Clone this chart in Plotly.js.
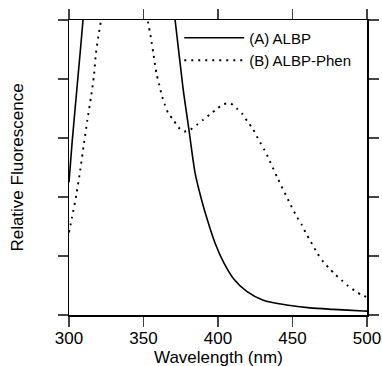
<!DOCTYPE html>
<html>
<head>
<meta charset="utf-8">
<script src="https://cdn.plot.ly/plotly-3.0.1.min.js"></script>
<style>html,body{margin:0;padding:0;background:#fff;}#chart{width:382px;height:366px;}</style>
</head>
<body>
<div id="chart"></div>
<script>
// Curve A: ALBP (solid)
var wavelengthA = [300, 302, 305, 307.5, 309.4, 312, 340, 368, 371.2, 376.5, 380.5, 384.6, 389, 393, 398, 403.6, 410.3, 419.3, 430.4, 446, 461.7, 477.4, 497.5, 500];
var fluorA      = [2.25, 2.9, 3.75, 4.45, 5.0, 5.8, 9.0, 5.6, 5.0, 3.85, 3.14, 2.41, 1.95, 1.6, 1.22, 0.9, 0.62, 0.40, 0.25, 0.17, 0.12, 0.095, 0.068, 0.065];
// Curve B: ALBP-Phen (dotted)
var wavelengthB = [300, 302, 305, 307.5, 310, 312.3, 314.8, 316.8, 318.1, 319.7, 321.5, 324, 338, 352, 353.2, 354.4, 355.5, 356.6, 357.7, 358.9, 360.6, 362.2, 364.4, 366.6, 370, 373.4, 377.2, 381.2, 385.7, 390.1, 394.6, 399.1, 403.6, 408.1, 412.6, 416.6, 419.7, 423.3, 426, 428.2, 430.9, 433.1, 440, 448.3, 452.8, 456.2, 459.1, 461.7, 466.6, 470.7, 474.7, 478.5, 483, 487.4, 491.9, 496.4, 500];
var fluorB      = [1.4, 1.65, 2.05, 2.45, 2.9, 3.3, 3.7, 4.07, 4.44, 4.72, 5.0, 5.5, 8.0, 5.3, 4.94, 4.78, 4.61, 4.44, 4.24, 4.07, 3.90, 3.73, 3.56, 3.42, 3.31, 3.18, 3.11, 3.14, 3.22, 3.31, 3.40, 3.49, 3.57, 3.59, 3.50, 3.40, 3.28, 3.16, 3.03, 2.93, 2.81, 2.70, 2.32, 1.89, 1.67, 1.53, 1.38, 1.27, 1.05, 0.90, 0.79, 0.69, 0.59, 0.49, 0.41, 0.34, 0.30];
var seriesNames = ['(A) ALBP', '(B) ALBP-Phen'];
var xTickVals = [300, 350, 400, 450, 500];
var xTitle = 'Wavelength (nm)';
var yTitle = 'Relative Fluorescence';

var font = 'Liberation Sans, Arial, Helvetica, sans-serif';
var traces = [
  {x: wavelengthA, y: fluorA, name: seriesNames[0], mode: 'lines', type: 'scatter',
   line: {color: '#000', width: 1.6, shape: 'spline', smoothing: 0.7}},
  {x: wavelengthB, y: fluorB, name: seriesNames[1], mode: 'lines', type: 'scatter',
   line: {color: '#000', width: 1.9, dash: '2px,5px', shape: 'spline', smoothing: 0.7}}
];
var layout = {
  width: 382, height: 366,
  margin: {l: 69, r: 15, t: 20, b: 51},
  paper_bgcolor: '#fff', plot_bgcolor: '#fff',
  font: {family: font, color: '#000', size: 17},
  showlegend: true,
  legend: {x: 0.37, y: 0.995, xanchor: 'left', yanchor: 'top', bgcolor: 'rgba(0,0,0,0)',
           font: {size: 15, family: font}, itemwidth: 60, tracegroupgap: 0},
  xaxis: {range: [300, 500], tickvals: xTickVals, ticks: 'outside', ticklen: 10, tickwidth: 1.5,
          showline: true, linewidth: 1.5, linecolor: '#000', mirror: 'ticks', showgrid: false, zeroline: false,
          tickfont: {size: 17}, ticklabelstandoff: -3},
  yaxis: {range: [0, 5], dtick: 1, tick0: 0, ticks: 'outside', ticklen: 10, tickwidth: 1.5,
          showline: true, linewidth: 1.5, linecolor: '#000', mirror: 'ticks', showgrid: false, zeroline: false,
          showticklabels: false, title: {text: yTitle, font: {size: 17}, standoff: 29}},
  annotations: [
    {text: xTitle, xref: 'paper', yref: 'paper', x: 0.5, y: 0, xanchor: 'center', yanchor: 'top',
     yshift: -31, showarrow: false, font: {size: 17, family: font}}
  ]
};
Plotly.newPlot('chart', traces, layout, {displayModeBar: false, staticPlot: true});
</script>
</body>
</html>
